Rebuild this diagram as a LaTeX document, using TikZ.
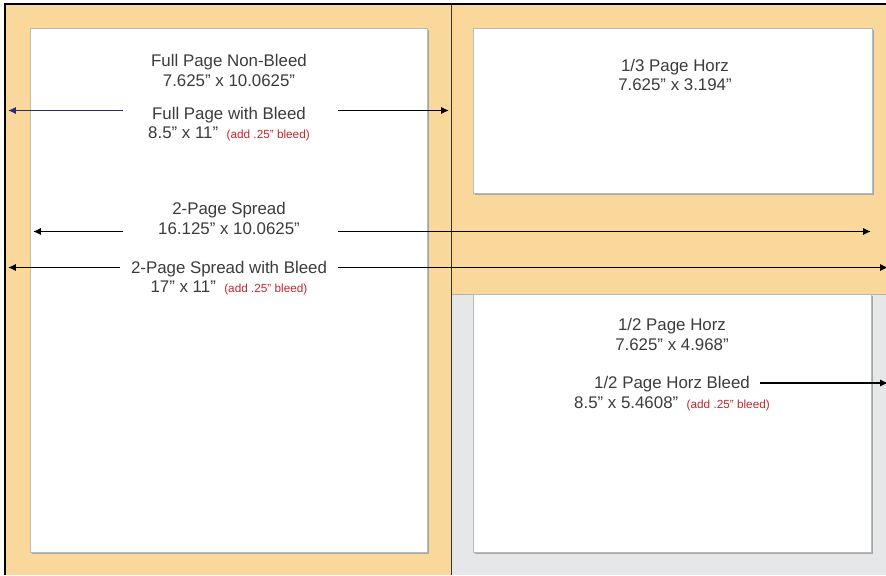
\documentclass[tikz,border=0pt]{standalone}
\usepackage{fontspec}
\setmainfont{Liberation Sans}
\usepackage{xcolor}
\usetikzlibrary{arrows.meta}
\definecolor{bleedorange}{HTML}{FAD89B}
\definecolor{trimgray}{HTML}{E6E7E8}
\definecolor{labeltext}{HTML}{3C3C3C}
\definecolor{bleedred}{HTML}{C4262E}
\definecolor{arrowblue}{HTML}{262C7A}
\newcommand{\addbleed}{\enspace{\color{bleedred}\fontsize{6.7}{8}\selectfont(add .25” bleed)}}

\begin{document}
\begin{tikzpicture}[x=0.02cm, y=-0.02cm,
	label/.style={anchor=base, inner sep=0pt, text=labeltext, font=\fontsize{9.6}{11.5}\selectfont},
	page/.style={fill=white, draw=gray!55, line width=0.4pt},
	pageshadow/.style={fill=gray!70},
	arr/.style={line width=1pt, -{Latex[length=4.5pt, width=4.2pt]}}]
		\useasboundingbox (0, 0) rectangle (886, 575);

		\fill[bleedorange] (5, 4) rectangle (886, 575);
		\fill[trimgray] (451, 294) rectangle (886, 575);
		\draw[gray!60, line width=0.5pt] (451, 294) -- (886, 294);

		\fill[pageshadow] (31.5, 29.5) rectangle (428.5, 553.5);
		\fill[pageshadow] (474.5, 29.5) rectangle (873.5, 194.5);
		\fill[pageshadow] (474.5, 295.5) rectangle (872.5, 553.5);
		\draw[page] (30, 28) rectangle (427, 552);
		\draw[page] (473, 28) rectangle (872, 193);
		\draw[page] (473, 294) rectangle (871, 552);

		\draw[gray!40!black, line width=0.5pt] (451, 4) -- (451, 575);
		\draw[black, line width=0.8pt] (5, 575) -- (5, 4) -- (886, 4);

		\node[label] at (229, 66) (fpnb) {Full Page Non-Bleed};
		\node[label] at (229, 86) (fpnbd) {7.625” x 10.0625”};
		\node[label] at (229, 119) (fpb) {Full Page with Bleed};
		\node[label] at (229, 138) (fpbd) {8.5” x 11”\addbleed};

		\node[label] at (229, 214) (sp) {2-Page Spread};
		\node[label] at (229, 234) (spd) {16.125” x 10.0625”};
		\node[label] at (229, 273) (spb) {2-Page Spread with Bleed};
		\node[label] at (229, 292) (spbd) {17” x 11”\addbleed};

		\node[label] at (675, 71) (thh) {1/3 Page Horz};
		\node[label] at (675, 90) (thhd) {7.625” x 3.194”};

		\node[label] at (672, 330) (hh) {1/2 Page Horz};
		\node[label] at (672, 350) (hhd) {7.625” x 4.968”};
		\node[label] at (672, 388) (hhb) {1/2 Page Horz Bleed};
		\node[label] at (672, 408) (hhbd) {8.5” x 5.4608”\addbleed};

		\coordinate (fpbL) at (123, 110.5);
		\coordinate (fpbLtip) at (8, 110.5);
		\coordinate (fpbR) at (338, 110.5);
		\coordinate (fpbRtip) at (449, 110.5);
		\coordinate (spL) at (123, 231.5);
		\coordinate (spLtip) at (33, 231.5);
		\coordinate (spR) at (338, 231.5);
		\coordinate (spRtip) at (871, 231.5);
		\coordinate (spbL) at (120, 267.5);
		\coordinate (spbLtip) at (8, 267.5);
		\coordinate (spbR) at (338, 267.5);
		\coordinate (spbRtip) at (888, 267.5);
		\coordinate (hhbR) at (760, 383);
		\coordinate (hhbRtip) at (888, 383);

		\draw[arr, arrowblue] (fpbL) -- (fpbLtip);
		\draw[arr] (fpbR) -- (fpbRtip);
		\draw[arr] (spL) -- (spLtip);
		\draw[arr] (spR) -- (spRtip);
		\draw[arr] (spbL) -- (spbLtip);
		\draw[arr] (spbR) -- (spbRtip);
		\draw[arr] (hhbR) -- (hhbRtip);
\end{tikzpicture}
\end{document}
